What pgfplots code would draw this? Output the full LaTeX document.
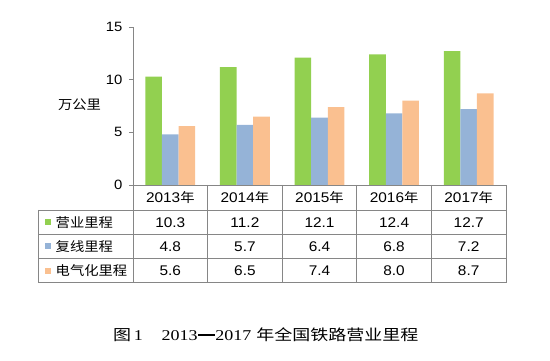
\documentclass[border=0pt]{standalone}
\usepackage{fontspec}
\setmainfont{Liberation Sans}[FakeStretch=1.1]
\newfontfamily\cjk{Noto Sans CJK SC}[FakeStretch=1.1]
\newfontfamily\cjkcap{Noto Sans CJK SC}
\newfontfamily\serif{Liberation Serif}
\usepackage{pgfplots}
\pgfplotsset{compat=1.18}
\definecolor{cg}{HTML}{92D050}
\definecolor{cb}{HTML}{95B3D7}
\definecolor{co}{HTML}{FAC090}
\definecolor{ln}{HTML}{868686}
\begin{document}
\begin{tikzpicture}[x=1pt,y=1pt]
\path[use as bounding box] (0,0) rectangle (550,361);
\begin{axis}[
  at={(133pt,176pt)}, anchor=south west,
  scale only axis, width=373pt, height=158pt,
  xmin=-0.5, xmax=4.5, ymin=0, ymax=15,
  ytick={0,5,10,15}, xtick=\empty,
  axis lines=left, axis line style={-, ln, line width=0.8pt},
  tick align=outside, major tick length=4pt,
  ytick style={ln, line width=0.8pt},
  yticklabel style={font=\fontsize{13.5}{15}\selectfont, xshift=-3pt},
  /pgf/number format/assume math mode=true,
  ybar=0pt, bar width=16.6pt,
  clip=false,
]
\addplot[fill=cg, draw=none] coordinates {(0,10.3) (1,11.2) (2,12.1) (3,12.4) (4,12.7)};
\addplot[fill=cb, draw=none] coordinates {(0,4.8) (1,5.7) (2,6.4) (3,6.8) (4,7.2)};
\addplot[fill=co, draw=none] coordinates {(0,5.6) (1,6.5) (2,7.4) (3,8.0) (4,8.7)};
\end{axis}
% y label
\node[font=\cjk\fontsize{13}{15}\selectfont] at (79.5,256) {万公里};
% table lines
\begin{scope}[draw=ln, line width=0.8pt]
\draw (38,151) -- (506,151);
\draw (38,126.7) -- (506,126.7);
\draw (38,102.5) -- (506,102.5);
\draw (38,78.3) -- (506,78.3);
\draw (38,151) -- (38,78.3);
\foreach \x in {133,207.6,282.2,356.8,431.4,506} {\draw (\x,176) -- (\x,78.3);}
\end{scope}
% header
\foreach \y [count=\i from 0] in {2013,2014,2015,2016,2017} {
  \node[font=\fontsize{14}{15}\selectfont] at (170.3+74.6*\i,163.5) {\y{\cjk\fontsize{13}{15}\selectfont 年}};
}
% rows
\foreach \v [count=\i from 0] in {10.3,11.2,12.1,12.4,12.7} {
  \node[font=\fontsize{14}{15}\selectfont] at (170.3+74.6*\i,138.8) {\v};
}
\foreach \v [count=\i from 0] in {4.8,5.7,6.4,6.8,7.2} {
  \node[font=\fontsize{14}{15}\selectfont] at (170.3+74.6*\i,114.6) {\v};
}
\foreach \v [count=\i from 0] in {5.6,6.5,7.4,8.0,8.7} {
  \node[font=\fontsize{14}{15}\selectfont] at (170.3+74.6*\i,90.4) {\v};
}
% row labels
\fill[cg] (45,135.8) rectangle (51,141.8);
\fill[cb] (45,111.6) rectangle (51,117.6);
\fill[co] (45,87.4) rectangle (51,93.4);
\node[anchor=west, inner sep=0pt, font=\cjk\fontsize{13}{15}\selectfont] at (55.5,138.8) {营业里程};
\node[anchor=west, inner sep=0pt, font=\cjk\fontsize{13}{15}\selectfont] at (55.5,114.6) {复线里程};
\node[anchor=west, inner sep=0pt, font=\cjk\fontsize{13}{15}\selectfont] at (55.5,90.4) {电气化里程};
% caption
\node[anchor=west, inner sep=0pt] at (113,26) {\scalebox{1.2}[1]{\fontsize{15}{16}\selectfont{\cjkcap 图}\hspace{2.2pt}{\serif 1}\hspace{15.6pt}{\serif 2013}\hspace{0.6pt}\rule[4.6pt]{13.6pt}{2.3pt}\hspace{0.6pt}{\serif 2017}\hspace{4.2pt}{\cjkcap 年全国铁路营业里程}}};
\end{tikzpicture}
\end{document}
